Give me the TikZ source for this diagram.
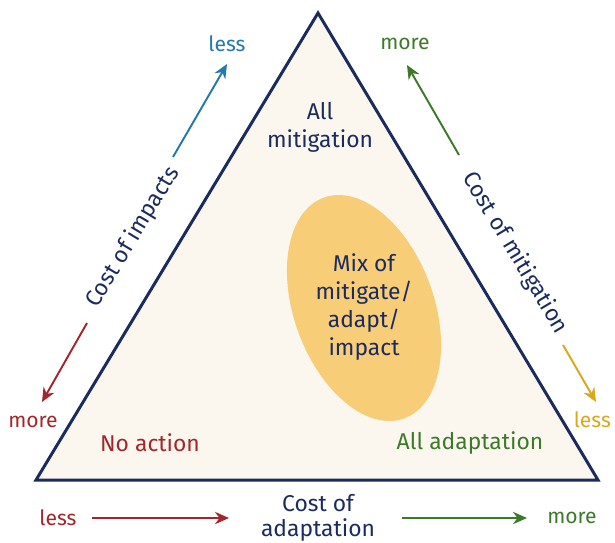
\documentclass[tikz,border=0pt]{standalone}
\usepackage{fontspec}
\setmainfont{Fira Sans}
\usetikzlibrary{arrows.meta, positioning, shapes.geometric}

\definecolor{navy}{HTML}{1B2B5E}
\definecolor{cream}{HTML}{FBF7EF}
\definecolor{mixfill}{HTML}{F8CD78}
\definecolor{impblue}{HTML}{2179B0}
\definecolor{mitgreen}{HTML}{3C7A2A}
\definecolor{actred}{HTML}{A2262B}
\definecolor{mitgold}{HTML}{D9A81C}

\begin{document}
\begin{tikzpicture}[
    x=0.02cm, y=-0.02cm,
    lbl/.style={font=\fontsize{13}{16}\selectfont, text=navy,
    align=center, inner sep=1pt},
    tag/.style={font=\fontsize{12}{14}\selectfont, inner sep=1pt},
    arrow/.style={-{Stealth[length=8pt, width=7pt]}, line width=1.1pt} ]

    \useasboundingbox[fill=white] (0,0) rectangle (615,542);

    % Triangle
    \coordinate (top) at (318,13);
    \coordinate (bl) at (36,480);
    \coordinate (br) at (598,480);
    \draw[navy, line width=1.7pt, fill=cream, line join=miter]
        (top) -- (bl) -- (br) -- cycle;

    % Mixed region
    \node[ellipse, fill=mixfill, minimum width=2.8cm, minimum height=4.7cm,
        rotate=20] (mix_area) at (364,308) {};
    \node[lbl] (mix_label) at (364,307)
        {Mix of\\mitigate/\\adapt/\\impact};

    % Corner labels
    \node[lbl] (all_mit) at (320,127) {All\\mitigation};
    \node[lbl, text=actred] (no_action) at (150,443) {No action};
    \node[lbl, text=mitgreen] (all_adapt) at (470,443) {All adaptation};

    % Cost of impacts (left side)
    \node[lbl, rotate=59] (imp_label) at (133,237) {Cost of impacts};
    \coordinate (imp_up_start) at (173,157);
    \coordinate (imp_up_end) at (227,64);
    \coordinate (imp_dn_start) at (87,323);
    \coordinate (imp_dn_end) at (42,402);
    \node[tag, text=impblue] (imp_less) at (227,44) {less};
    \node[tag, text=actred] (imp_more) at (33,422) {more};
    \draw[arrow, impblue] (imp_up_start) -- (imp_up_end);
    \draw[arrow, actred] (imp_dn_start) -- (imp_dn_end);

    % Cost of mitigation (right side)
    \node[lbl, rotate=-59] (mit_label) at (515,253) {Cost of mitigation};
    \coordinate (mit_up_start) at (459,155);
    \coordinate (mit_up_end) at (407,65);
    \coordinate (mit_dn_start) at (563,345);
    \coordinate (mit_dn_end) at (596,402);
    \node[tag, text=mitgreen] (mit_more) at (405,44) {more};
    \node[tag, text=mitgold, anchor=east] (mit_less) at (613,420) {less};
    \draw[arrow, mitgreen] (mit_up_start) -- (mit_up_end);
    \draw[arrow, mitgold] (mit_dn_start) -- (mit_dn_end);

    % Cost of adaptation (bottom)
    \node[lbl, font=\fontsize{13}{14.5}\selectfont] (adapt_label)
        at (318,518) {Cost of\\adaptation};
    \node[tag, text=actred] (adapt_less) at (58,518) {less};
    \node[tag, text=mitgreen] (adapt_more) at (572,518) {more};
    \coordinate (adapt_l_start) at (92,518);
    \coordinate (adapt_l_end) at (229,518);
    \coordinate (adapt_r_start) at (402,518);
    \coordinate (adapt_r_end) at (527,518);
    \draw[arrow, actred] (adapt_l_start) -- (adapt_l_end);
    \draw[arrow, mitgreen] (adapt_r_start) -- (adapt_r_end);

  \end{tikzpicture}
\end{document}
